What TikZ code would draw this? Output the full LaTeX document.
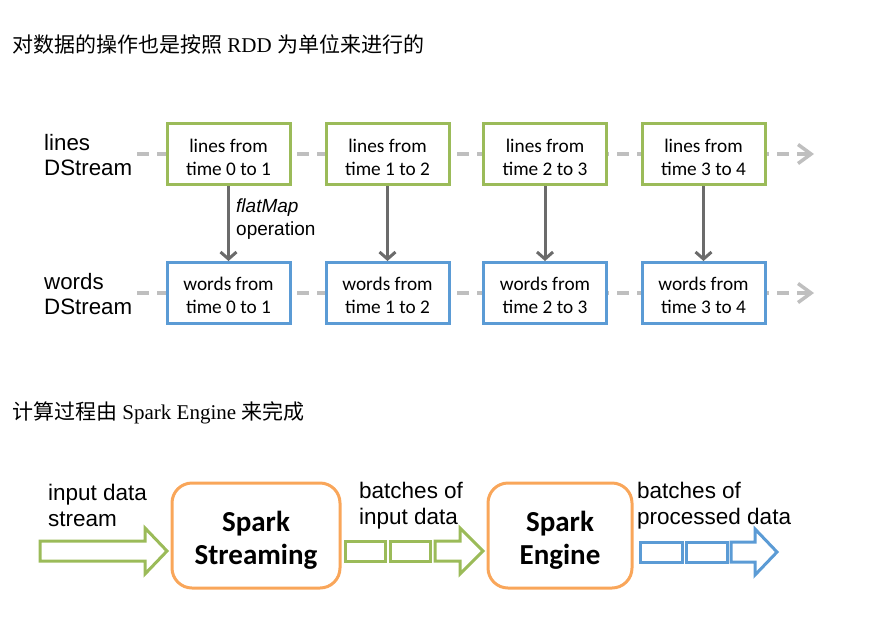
\documentclass[tikz,border=0pt]{standalone}
\usepackage{fontspec}
\setmainfont{Liberation Serif}
\newfontfamily\cjk{Noto Sans CJK SC}
\newfontfamily\arial{Liberation Sans}
\newfontfamily\calib{Carlito}
\usetikzlibrary{arrows.meta}
\definecolor{lgreen}{HTML}{9BBB59}
\definecolor{lblue}{HTML}{5B9BD5}
\definecolor{lorange}{HTML}{F9A65A}
\definecolor{dgray}{HTML}{BFBFBF}
\definecolor{agray}{HTML}{6B6B6B}
\newcommand\lowtext[2]{\raisebox{-#1}[\height][\depth]{\begin{tabular}{@{}c@{}}#2\end{tabular}}}
\begin{document}
\begin{tikzpicture}[x=1pt,y=-1pt,
  title/.style={anchor=west, inner sep=0pt, font=\fontsize{21}{25}\selectfont},
  lbl/.style={font=\arial\fontsize{22.3}{25}\selectfont, align=left, inner sep=0pt, anchor=west},
  blbl/.style={lbl, font=\arial\fontsize{22.5}{26.5}\selectfont},
  linebox/.style={draw=lgreen, line width=3pt, fill=white, minimum width=123pt, minimum height=61pt, inner sep=0pt, align=center, font=\calib\fontsize{19.3}{23}\selectfont},
  wordbox/.style={linebox, draw=lblue},
  stream/.style={draw=dgray, line width=4pt, dash pattern=on 12pt off 8pt, -{Straight Barb[length=13pt,width=19pt,line width=3.5pt]}},
  maparrow/.style={draw=agray, line width=3pt, -{Straight Barb[length=7pt,width=16pt,line width=3pt]}},
  engine/.style={draw=lorange, line width=3pt, rounded corners=20pt, fill=white, inner sep=0pt, align=center, font=\calib\bfseries\fontsize{29}{33}\selectfont},
  hollow/.style={line width=3pt, line join=miter}
]
\useasboundingbox (0,0) rectangle (869,625);

% titles
\node[title] (t1) at (12,44) {{\cjk 对数据的操作也是按照} RDD {\cjk 为单位来进行的}};
\node[title] (t2) at (12,413) {{\cjk 计算过程由} Spark Engine {\cjk 来完成}};

% DStream rows
\coordinate (ls) at (137,154);
\coordinate (le) at (814,154);
\coordinate (ws) at (137,293);
\coordinate (we) at (814,293);
\draw[stream] (ls) -- (le);
\draw[stream] (ws) -- (we);

\node[lbl] (lbl1) at (44,155.5) {lines\\DStream};
\node[lbl] (lbl2) at (44,294.5) {words\\DStream};

\node[linebox] (l1) at (228.5,154) {\lowtext{5pt}{lines from\\time 0 to 1}};
\node[linebox] (l2) at (387.5,154) {\lowtext{5pt}{lines from\\time 1 to 2}};
\node[linebox] (l3) at (545,154) {\lowtext{5pt}{lines from\\time 2 to 3}};
\node[linebox] (l4) at (703.5,154) {\lowtext{5pt}{lines from\\time 3 to 4}};

\node[wordbox] (w1) at (228.5,293) {\lowtext{4.5pt}{words from\\time 0 to 1}};
\node[wordbox] (w2) at (387.5,293) {\lowtext{4.5pt}{words from\\time 1 to 2}};
\node[wordbox] (w3) at (545,293) {\lowtext{4.5pt}{words from\\time 2 to 3}};
\node[wordbox] (w4) at (703.5,293) {\lowtext{4.5pt}{words from\\time 3 to 4}};

\draw[maparrow] (l1) -- (w1);
\draw[maparrow] (l2) -- (w2);
\draw[maparrow] (l3) -- (w3);
\draw[maparrow] (l4) -- (w4);

\node[lbl, font=\arial\fontsize{19}{23}\selectfont] (op) at (236,219.5) {\itshape flatMap\\operation};

% bottom pipeline
\node[blbl] (in) at (48,505.5) {input data\\stream};
\node[blbl] (bi) at (359,505.5) {batches of\\input data};
\node[blbl] (bp) at (637,505.5) {batches of\\processed data};

\node[engine, minimum width=168pt, minimum height=105pt] (ss) at (256,535.5) {\lowtext{6pt}{Spark\\Streaming}};
\node[engine, minimum width=144pt, minimum height=105pt] (se) at (560,535.5) {\lowtext{6pt}{Spark\\Engine}};

% input stream arrow
\draw[hollow, draw=lgreen] (40,541) -- (145,541) -- (145,528) -- (167,551) -- (145,574) -- (145,561) -- (40,561) -- cycle;
% batches of input data
\draw[hollow, draw=lgreen] (345,541) rectangle (385,561);
\draw[hollow, draw=lgreen] (390,541) rectangle (430,561);
\draw[hollow, draw=lgreen] (435,541) -- (460,541) -- (460,528) -- (483,551) -- (460,574) -- (460,561) -- (435,561) -- cycle;
% batches of processed data
\draw[hollow, draw=lblue] (640,542) rectangle (682,562);
\draw[hollow, draw=lblue] (686,542) rectangle (727,562);
\draw[hollow, draw=lblue] (731,542) -- (755,542) -- (755,529) -- (777,552) -- (755,575) -- (755,562) -- (731,562) -- cycle;
\end{tikzpicture}
\end{document}
